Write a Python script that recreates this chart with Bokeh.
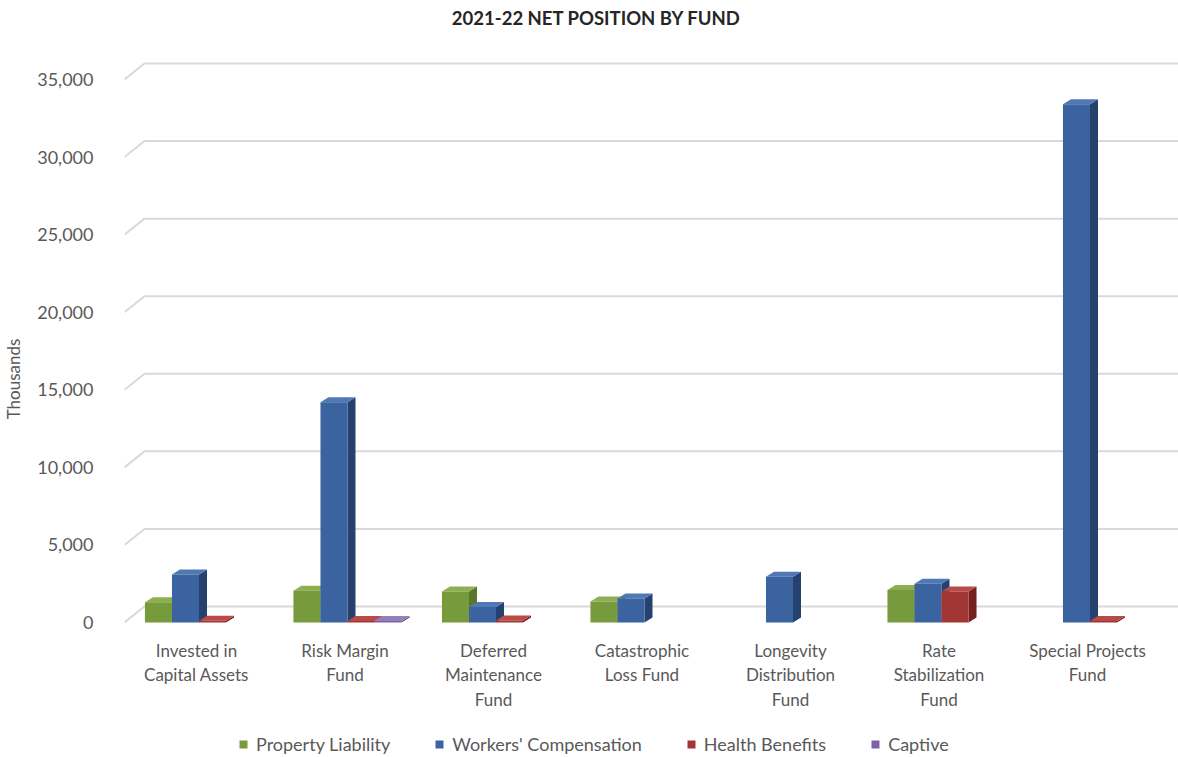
from bokeh.plotting import figure
from bokeh.models import ColumnDataSource, FixedTicker, Legend, LegendItem, NumeralTickFormatter, Range1d, Label
from bokeh.core.properties import value
from bokeh.embed import file_html
from bokeh.resources import INLINE

categories = ["Invested in\nCapital Assets", "Risk Margin\nFund", "Deferred\nMaintenance\nFund",
              "Catastrophic\nLoss Fund", "Longevity\nDistribution\nFund", "Rate\nStabilization\nFund",
              "Special Projects\nFund"]
series_names = ["Property Liability", "Workers' Compensation", "Health Benefits", "Captive"]
property_liability = [1300, 2050, 2000, 1350, None, 2100, None]
workers_compensation = [3100, 14200, 1000, 1550, 2950, 2500, 33400]
health_benefits = [120, 100, 130, None, None, 2000, 100]
captive = [None, 100, None, None, None, None, None]
y_ticks = [0, 5000, 10000, 15000, 20000, 25000, 30000, 35000]
title_text = "2021-22 NET POSITION BY FUND"

series_values = [property_liability, workers_compensation, health_benefits, captive]
front_colors = ["#779A3C", "#3A63A0", "#A23634", "#7E63A6"]
side_colors = ["#5A7629", "#25426F", "#752120", "#5E4A80"]
top_colors = ["#8DAF52", "#4F78B4", "#B84B48", "#9480BA"]

FONT = "Lato"
TXT = "#595959"

n = len(categories)
FW, FH = 1055, 757           # frame size in px
LEFT = 120                   # frame left edge in px
ZERO_PX = 622                # pixel row of value 0 (from top)
s = 35000 / 543.0            # data units per vertical pixel
y_start = -(FH - ZERO_PX) * s
y_end = ZERO_PX * s
CAT_PX = 148.5               # px per category slot
x_start = -(192 - LEFT) / CAT_PX
x_end = x_start + FW / CAT_PX
px_x = 1.0 / CAT_PX          # x data units per pixel


def ypx(row):
    """data y for a pixel row measured from the top"""
    return (ZERO_PX - row) * s


def xpx(col):
    """data x for a pixel column measured from the left edge of the page"""
    return x_start + (col - LEFT) * px_x


p = figure(frame_width=FW, frame_height=FH, min_border_left=LEFT, min_border_right=3,
           min_border_top=0, min_border_bottom=0,
           x_range=Range1d(x_start, x_end), y_range=Range1d(y_start, y_end),
           output_backend="svg", toolbar_location=None)
p.outline_line_color = None
p.xgrid.visible = False
p.ygrid.visible = False
p.xaxis.visible = False
p.background_fill_color = "white"
p.border_fill_color = "white"

# back-wall gridlines with 3D stub
gdx, gdy = 20 * px_x, 16 * s
gxs, gys = [], []
for t in y_ticks:
    gxs.append([x_start, x_start + gdx, x_end])
    gys.append([t, t + gdy, t + gdy])
p.multi_line(gxs, gys, line_color="#D9D9D9", line_width=2)

bw = 0.182
shift = 2.5 * px_x
offsets = [-1.5 * bw + shift, -0.5 * bw + shift, 0.5 * bw + shift, 1.5 * bw + shift]
ddx, ddy = 8 * px_x, 5 * s

pxs, pys, pcols = [], [], []
for si, vals in enumerate(series_values):
    for ci, v in enumerate(vals):
        if v is None:
            continue
        xl = ci + offsets[si] - bw / 2
        xr = xl + bw
        pxs.append([xr, xr + ddx, xr + ddx, xr]); pys.append([0, ddy, v + ddy, v]); pcols.append(side_colors[si])
        pxs.append([xl, xl + ddx, xr + ddx, xr]); pys.append([v, v + ddy, v + ddy, v]); pcols.append(top_colors[si])
p.patches(xs="xs", ys="ys", fill_color="c", line_color=None,
          source=ColumnDataSource(dict(xs=pxs, ys=pys, c=pcols)))

items = []
for si, vals in enumerate(series_values):
    xs = [ci + offsets[si] for ci in range(n)]
    tops = [float("nan") if v is None else v for v in vals]
    r = p.vbar(x=xs, top=tops, bottom=0, width=bw, fill_color=front_colors[si], line_color=None)
    items.append(LegendItem(label=series_names[si], renderers=[r]))

# category labels (x axis)
p.text(x=list(range(n)), y=[ypx(639)] * n, text=categories, text_align="center", text_baseline="top",
       text_font=value(FONT), text_font_size=value("17px"), text_color=TXT, text_line_height=1.17)

# title
p.add_layout(Label(x=xpx(592), y=ypx(17), text=title_text, text_align="center", text_baseline="middle",
                   text_font=FONT, text_font_size="18.5px", text_font_style="bold", text_color="#262626"))

legend = Legend(items=items, orientation="horizontal", location=(114, 2),
                label_text_font=FONT, label_text_font_size="18px", label_text_color=TXT,
                glyph_width=10, glyph_height=10, spacing=44, label_standoff=8,
                label_height=18,
                border_line_color=None, background_fill_alpha=0, margin=0, padding=0)
p.add_layout(legend, "center")

p.yaxis.ticker = FixedTicker(ticks=y_ticks)
p.yaxis.formatter = NumeralTickFormatter(format="0,0")
p.yaxis.axis_line_color = None
p.yaxis.major_tick_line_color = None
p.yaxis.minor_tick_line_color = None
p.yaxis.major_label_text_font = FONT
p.yaxis.major_label_text_font_size = "18px"
p.yaxis.major_label_text_color = TXT
p.yaxis.major_label_standoff = 25
p.yaxis.axis_label = "Thousands"
p.yaxis.axis_label_text_font = FONT
p.yaxis.axis_label_text_font_size = "17px"
p.yaxis.axis_label_text_font_style = "normal"
p.yaxis.axis_label_text_color = TXT
p.yaxis.axis_label_standoff = 10

open("out.html", "w").write(file_html(p, INLINE))
